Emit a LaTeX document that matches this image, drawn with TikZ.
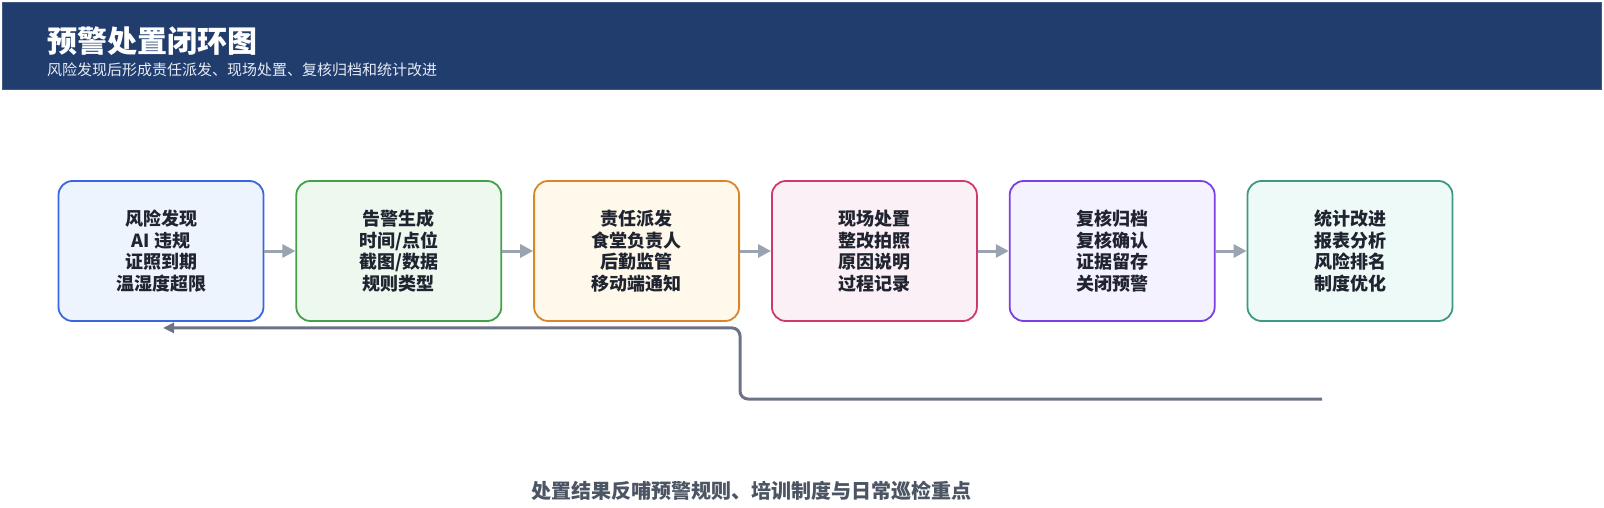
\documentclass[tikz,border=0pt]{standalone}
\usepackage{fontspec}
\setmainfont{Noto Sans CJK SC}
\usetikzlibrary{arrows.meta, positioning, calc}

\definecolor{headerblue}{HTML}{213D6E}
\definecolor{headeredge}{HTML}{3F5A88}
\definecolor{subwhite}{HTML}{E6ECF5}
\definecolor{textdark}{HTML}{1F2430}
\definecolor{arrowgray}{HTML}{9AA3B2}
\definecolor{loopgray}{HTML}{6B7385}
\definecolor{notegray}{HTML}{4B5563}
\definecolor{riskline}{HTML}{3B66E0}\definecolor{riskfill}{HTML}{EEF4FD}
\definecolor{alarmline}{HTML}{45A04A}\definecolor{alarmfill}{HTML}{EDF9EF}
\definecolor{displine}{HTML}{D9862B}\definecolor{dispfill}{HTML}{FEF9EA}
\definecolor{siteline}{HTML}{CF3A6C}\definecolor{sitefill}{HTML}{FBF0F5}
\definecolor{revline}{HTML}{7B3FE4}\definecolor{revfill}{HTML}{F4F2FE}
\definecolor{statline}{HTML}{3F9785}\definecolor{statfill}{HTML}{EEFAF7}

\begin{document}
\begin{tikzpicture}[
    x=1pt, y=-1pt,
    stage/.style={
        draw,
        line width=1.8pt,
        rounded corners=14pt,
        align=center,
        minimum width=205pt,
        minimum height=140pt,
        text=textdark,
        font=\fontsize{18}{21.5}\selectfont\bfseries
    },
    arrow/.style={-{Triangle[length=13pt,width=13pt]}, line width=3pt, draw=arrowgray},
    feedback/.style={-{Triangle[length=11pt,width=10pt]}, line width=3pt, draw=loopgray, rounded corners=8pt},
    node distance=31pt
]
\useasboundingbox (0,0) rectangle (1604,508);

% ------------------------
% Header band
% ------------------------
\node[fill=headerblue, draw=headeredge, line width=0.8pt, inner sep=0,
      minimum width=1599pt, minimum height=87pt, anchor=north west] (header) at (2,2) {};

\node[anchor=west, inner sep=0, text=white,
      font=\fontsize{30}{34}\selectfont\bfseries] (title) at (47,41) {预警处置闭环图};

\node[anchor=west, inner sep=0, text=subwhite,
      font=\fontsize{15}{18}\selectfont] (subtitle) at (47,70) {风险发现后形成责任派发、现场处置、复核归档和统计改进};

% ------------------------
% Stages
% ------------------------
\node[stage, draw=riskline, fill=riskfill] (risk) at (161,251) {
风险发现\\
AI 违规\\
证照到期\\
温湿度超限
};

\node[stage, draw=alarmline, fill=alarmfill] (alarm) [right=of risk] {
告警生成\\
时间/点位\\
截图/数据\\
规则类型
};

\node[stage, draw=displine, fill=dispfill] (dispatch) [right=of alarm] {
责任派发\\
食堂负责人\\
后勤监管\\
移动端通知
};

\node[stage, draw=siteline, fill=sitefill] (onsite) [right=of dispatch] {
现场处置\\
整改拍照\\
原因说明\\
过程记录
};

\node[stage, draw=revline, fill=revfill] (review) [right=of onsite] {
复核归档\\
复核确认\\
证据留存\\
关闭预警
};

\node[stage, draw=statline, fill=statfill] (stats) [right=of review] {
统计改进\\
报表分析\\
风险排名\\
制度优化
};

% ------------------------
% Arrows
% ------------------------
\draw[arrow] (risk) -- (alarm);
\draw[arrow] (alarm) -- (dispatch);
\draw[arrow] (dispatch) -- (onsite);
\draw[arrow] (onsite) -- (review);
\draw[arrow] (review) -- (stats);

% ------------------------
% Feedback loop
% ------------------------
\coordinate (fbstart) at (1322,399);
\draw[feedback] (fbstart) -| ([yshift=-6pt]dispatch.south east) -- ([yshift=-6pt,xshift=2pt]risk.south);

\node[text=notegray, font=\fontsize{20}{24}\selectfont\bfseries] (note) at (751,491) {处置结果反哺预警规则、培训制度与日常巡检重点};

\end{tikzpicture}
\end{document}
